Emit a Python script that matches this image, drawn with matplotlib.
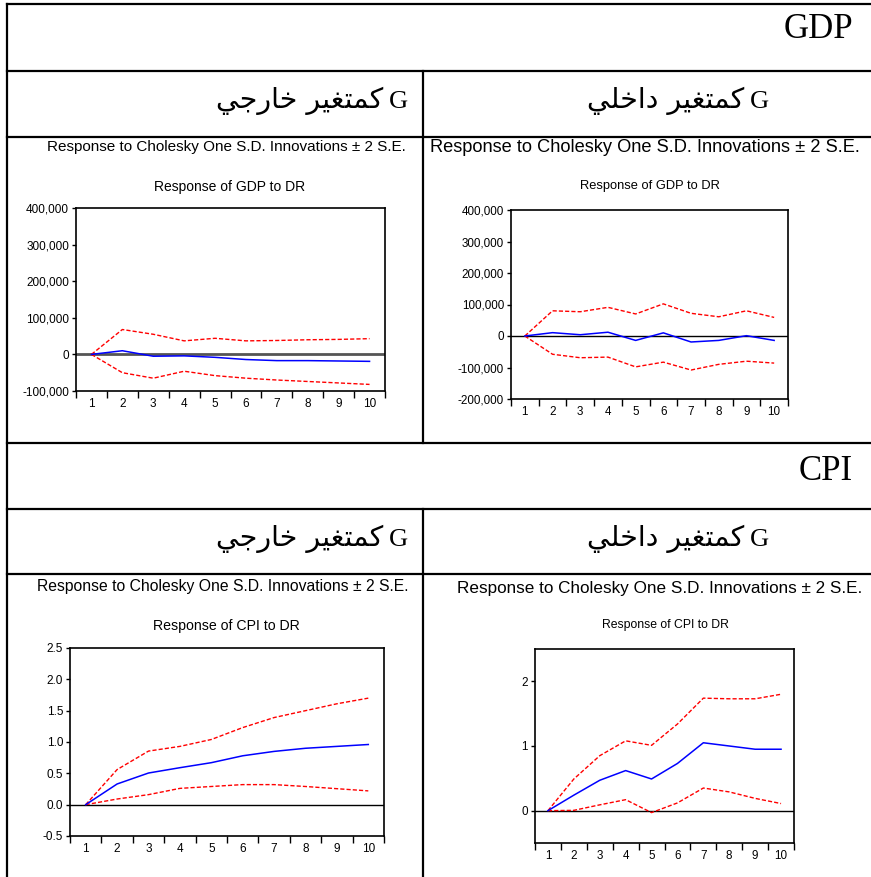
import numpy as np
import matplotlib
matplotlib.use("Agg")
import matplotlib.pyplot as plt
import matplotlib.ticker as ticker
from matplotlib.lines import Line2D
from matplotlib import font_manager

W, H = 871, 877

periods = np.arange(1, 11)

# response of GDP to a DR shock, DR exogenous (left) / endogenous (right)
gdp_ext_resp = [0, 10000, -5000, -4000, -8000, -14000, -17000, -17000, -18000, -19000]
gdp_ext_upper = [0, 68000, 55000, 37000, 44000, 37000, 38000, 40000, 41000, 43000]
gdp_ext_lower = [0, -50000, -65000, -46000, -58000, -65000, -70000, -74000, -78000, -82000]

gdp_int_resp = [0, 10600, 4000, 12000, -14000, 10000, -19000, -14000, 1000, -14000]
gdp_int_upper = [0, 80000, 77000, 91000, 70000, 102000, 72000, 61000, 80000, 59000]
gdp_int_lower = [0, -58000, -69000, -67000, -98000, -83000, -108000, -90000, -80000, -86000]

# response of CPI to a DR shock
cpi_ext_resp = [0, 0.33, 0.505, 0.59, 0.67, 0.78, 0.85, 0.90, 0.93, 0.96]
cpi_ext_upper = [0, 0.56, 0.855, 0.93, 1.04, 1.23, 1.39, 1.50, 1.61, 1.70]
cpi_ext_lower = [0, 0.09, 0.16, 0.26, 0.29, 0.32, 0.32, 0.29, 0.255, 0.22]

cpi_int_resp = [0, 0.24, 0.47, 0.62, 0.49, 0.73, 1.05, 1.00, 0.95, 0.95]
cpi_int_upper = [0, 0.49, 0.85, 1.08, 1.01, 1.34, 1.74, 1.73, 1.73, 1.80]
cpi_int_lower = [0, 0.005, 0.09, 0.17, -0.03, 0.12, 0.35, 0.29, 0.19, 0.11]

SUPTITLE = "Response to Cholesky One S.D. Innovations \u00b1 2 S.E."
WORD_VAR = "كمتغير"
WORD_EXT = "خارجي"
WORD_INT = "داخلي"

# contextual forms (isolated, final, initial, medial) for the letters used
FORMS = {
    "ا": ("\uFE8D", "\uFE8E", None, None),
    "ت": ("\uFE95", "\uFE96", "\uFE97", "\uFE98"),
    "ج": ("\uFE9D", "\uFE9E", "\uFE9F", "\uFEA0"),
    "خ": ("\uFEA5", "\uFEA6", "\uFEA7", "\uFEA8"),
    "د": ("\uFEA9", "\uFEAA", None, None),
    "ر": ("\uFEAD", "\uFEAE", None, None),
    "غ": ("\uFECD", "\uFECE", "\uFECF", "\uFED0"),
    "ك": ("\uFED9", "\uFEDA", "\uFEDB", "\uFEDC"),
    "ل": ("\uFEDD", "\uFEDE", "\uFEDF", "\uFEE0"),
    "م": ("\uFEE1", "\uFEE2", "\uFEE3", "\uFEE4"),
    "ي": ("\uFEF1", "\uFEF2", "\uFEF3", "\uFEF4"),
}


def shape_rtl(text):
    """Join arabic letters and reverse for left-to-right drawing."""
    out = []
    for i, ch in enumerate(text):
        if ch not in FORMS:
            out.append(ch)
            continue
        prev = text[i - 1] if i > 0 else ""
        nxt = text[i + 1] if i + 1 < len(text) else ""
        iso, fin, ini, med = FORMS[ch]
        joins_prev = prev in FORMS and FORMS[prev][2] is not None
        joins_next = ini is not None and nxt in FORMS
        if joins_prev and joins_next:
            out.append(med)
        elif joins_prev:
            out.append(fin)
        elif joins_next:
            out.append(ini)
        else:
            out.append(iso)
    return "".join(reversed(out))


installed = {f.name for f in font_manager.fontManager.ttflist}
NARROW = "Liberation Sans Narrow" if "Liberation Sans Narrow" in installed else "Liberation Sans"
narrow_scale = 1.0 if NARROW == "Liberation Sans Narrow" else 0.84
SERIF = ["Liberation Serif", "DejaVu Sans"]

fig = plt.figure(figsize=(W / 100, H / 100), dpi=100)
fig.patch.set_facecolor("white")


def px_axes(left, top, right, bottom):
    return fig.add_axes([left / W, 1 - bottom / H, (right - left) / W, (bottom - top) / H])


def px_text(x, y, s, **kw):
    fig.text(x / W, 1 - y / H, s, **kw)


def px_line(x0, y0, x1, y1):
    fig.add_artist(Line2D([x0 / W, x1 / W], [1 - y0 / H, 1 - y1 / H],
                          transform=fig.transFigure, color="black", lw=1.6,
                          solid_capstyle="projecting"))


def header(x_right, y_base, word):
    # latin G on the right, arabic words to its left
    px_text(x_right, y_base, "G", family="Liberation Serif", fontsize=19,
            ha="right", va="baseline")
    px_text(x_right - 25, y_base, shape_rtl(WORD_VAR + " " + word),
            family="DejaVu Sans", fontsize=20.5, ha="right", va="baseline")


def irf_panel(ax, resp, upper, lower, ylim, yticks, fmt, family, tick_size,
              zero_color="black", zero_lw=1.0):
    ax.axhline(0, color=zero_color, lw=zero_lw, zorder=1)
    ax.plot(periods, upper, color="#ff0000", lw=1.0, ls=(0, (3, 1.5)), zorder=2)
    ax.plot(periods, lower, color="#ff0000", lw=1.0, ls=(0, (3, 1.5)), zorder=2)
    ax.plot(periods, resp, color="#0000ff", lw=1.1, zorder=3)
    ax.set_xlim(0.5, 10.5)
    ax.set_ylim(*ylim)
    ax.set_yticks(yticks)
    ax.yaxis.set_major_formatter(ticker.FuncFormatter(lambda v, pos: fmt.format(v)))
    # tick marks sit between periods, labels on the periods
    ax.set_xticks(np.arange(0.5, 11, 1))
    ax.set_xticklabels([])
    ax.set_xticks(periods, minor=True)
    ax.set_xticklabels([str(p) for p in periods], minor=True)
    ax.tick_params(axis="x", which="major", length=5, width=1, direction="out")
    ax.tick_params(axis="x", which="minor", length=0, pad=5)
    ax.tick_params(axis="y", length=3, width=1, direction="out", pad=2)
    for lab in ax.get_xticklabels(minor=True) + ax.get_yticklabels():
        lab.set_family(family)
        lab.set_fontsize(tick_size)
    for sp in ax.spines.values():
        sp.set_linewidth(1.2)


# table grid
for y in (4, 71, 137, 443, 509, 574):
    px_line(7, y, 871, y)
px_line(7, 4, 7, 877)
px_line(423, 71, 423, 443)
px_line(423, 509, 423, 877)

# table headings
px_text(853, 38, "GDP", family=SERIF, fontsize=25, ha="right", va="baseline")
px_text(853, 480, "CPI", family=SERIF, fontsize=25, ha="right", va="baseline")
for row_y in (108, 546):
    header(408, row_y, WORD_EXT)
    header(769, row_y, WORD_INT)

# GDP, DR exogenous
ax1 = px_axes(76, 208, 385, 391)
irf_panel(ax1, gdp_ext_resp, gdp_ext_upper, gdp_ext_lower, (-100000, 400000),
          np.arange(-100000, 400001, 100000), "{:,.0f}", "Liberation Sans", 8.5,
          zero_color="#555555", zero_lw=2.0)
px_text(226, 147, SUPTITLE, family="Liberation Sans", fontsize=11, ha="center", va="center")
px_text(230, 187, "Response of GDP to DR", family="Liberation Sans", fontsize=10,
        ha="center", va="center")

# GDP, DR endogenous
ax2 = px_axes(511, 210, 788, 399)
irf_panel(ax2, gdp_int_resp, gdp_int_upper, gdp_int_lower, (-200000, 400000),
          np.arange(-200000, 400001, 100000), "{:,.0f}", NARROW, 10 * narrow_scale)
px_text(645, 148, SUPTITLE, family=NARROW, fontsize=16 * 0.82, ha="center", va="center")
px_text(650, 186, "Response of GDP to DR", family=NARROW, fontsize=11 * narrow_scale,
        ha="center", va="center")

# CPI, DR exogenous
ax3 = px_axes(70, 648, 384, 836)
irf_panel(ax3, cpi_ext_resp, cpi_ext_upper, cpi_ext_lower, (-0.5, 2.5),
          np.arange(-0.5, 2.51, 0.5), "{:.1f}", "Liberation Sans", 8.5)
px_text(223, 587, SUPTITLE, family="Liberation Sans", fontsize=11.3, ha="center", va="center")
px_text(226, 626, "Response of CPI to DR", family="Liberation Sans", fontsize=10.2,
        ha="center", va="center")

# CPI, DR endogenous
ax4 = px_axes(535, 649, 794, 843)
irf_panel(ax4, cpi_int_resp, cpi_int_upper, cpi_int_lower, (-0.5, 2.5),
          [0, 1, 2], "{:.0f}", NARROW, 10 * narrow_scale)
px_text(660, 588, SUPTITLE, family=NARROW, fontsize=15 * 0.82, ha="center", va="center")
px_text(665, 625, "Response of CPI to DR", family=NARROW, fontsize=10.5 * narrow_scale,
        ha="center", va="center")

fig.savefig("out.png", dpi=100, facecolor="white")
